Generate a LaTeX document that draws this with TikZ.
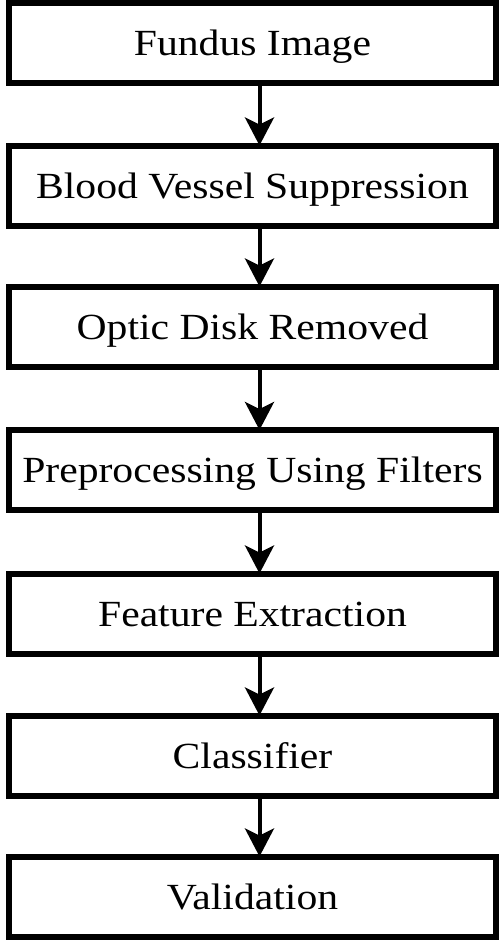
\documentclass[tikz,border=0pt]{standalone}
\usepackage{fontspec}
\setmainfont{Liberation Serif}[FakeStretch=1.13]
\usetikzlibrary{arrows.meta}
\begin{document}
\begin{tikzpicture}[x=1bp,y=-1bp,
  stepbox/.style={draw=black,line width=6bp,fill=white,minimum width=487bp,minimum height=80bp,inner sep=0pt,text height=25bp,text depth=0pt,font=\fontsize{37}{40}\selectfont},
  flow/.style={line width=4bp,-{Stealth[length=28bp,width=29bp,inset=7bp]},shorten <=-2bp}]
\useasboundingbox (0,0) rectangle (500,941);
\node[stepbox] (b1) at (252.5,43) {Fundus Image};
\node[stepbox] (b2) at (252.5,185.5) {Blood Vessel Suppression};
\node[stepbox] (b3) at (252.5,326.5) {Optic Disk Removed};
\node[stepbox] (b4) at (252.5,470) {Preprocessing Using Filters};
\node[stepbox] (b5) at (252.5,613.5) {Feature Extraction};
\node[stepbox] (b6) at (252.5,755.5) {Classifier};
\node[stepbox] (b7) at (252.5,896.5) {Validation};
\foreach \a/\b in {b1/b2,b2/b3,b3/b4,b4/b5,b5/b6,b6/b7}
  \draw[flow] ([xshift=7bp]\a.south) -- ([xshift=7bp,yshift=-3bp]\b.north);
\end{tikzpicture}
\end{document}
